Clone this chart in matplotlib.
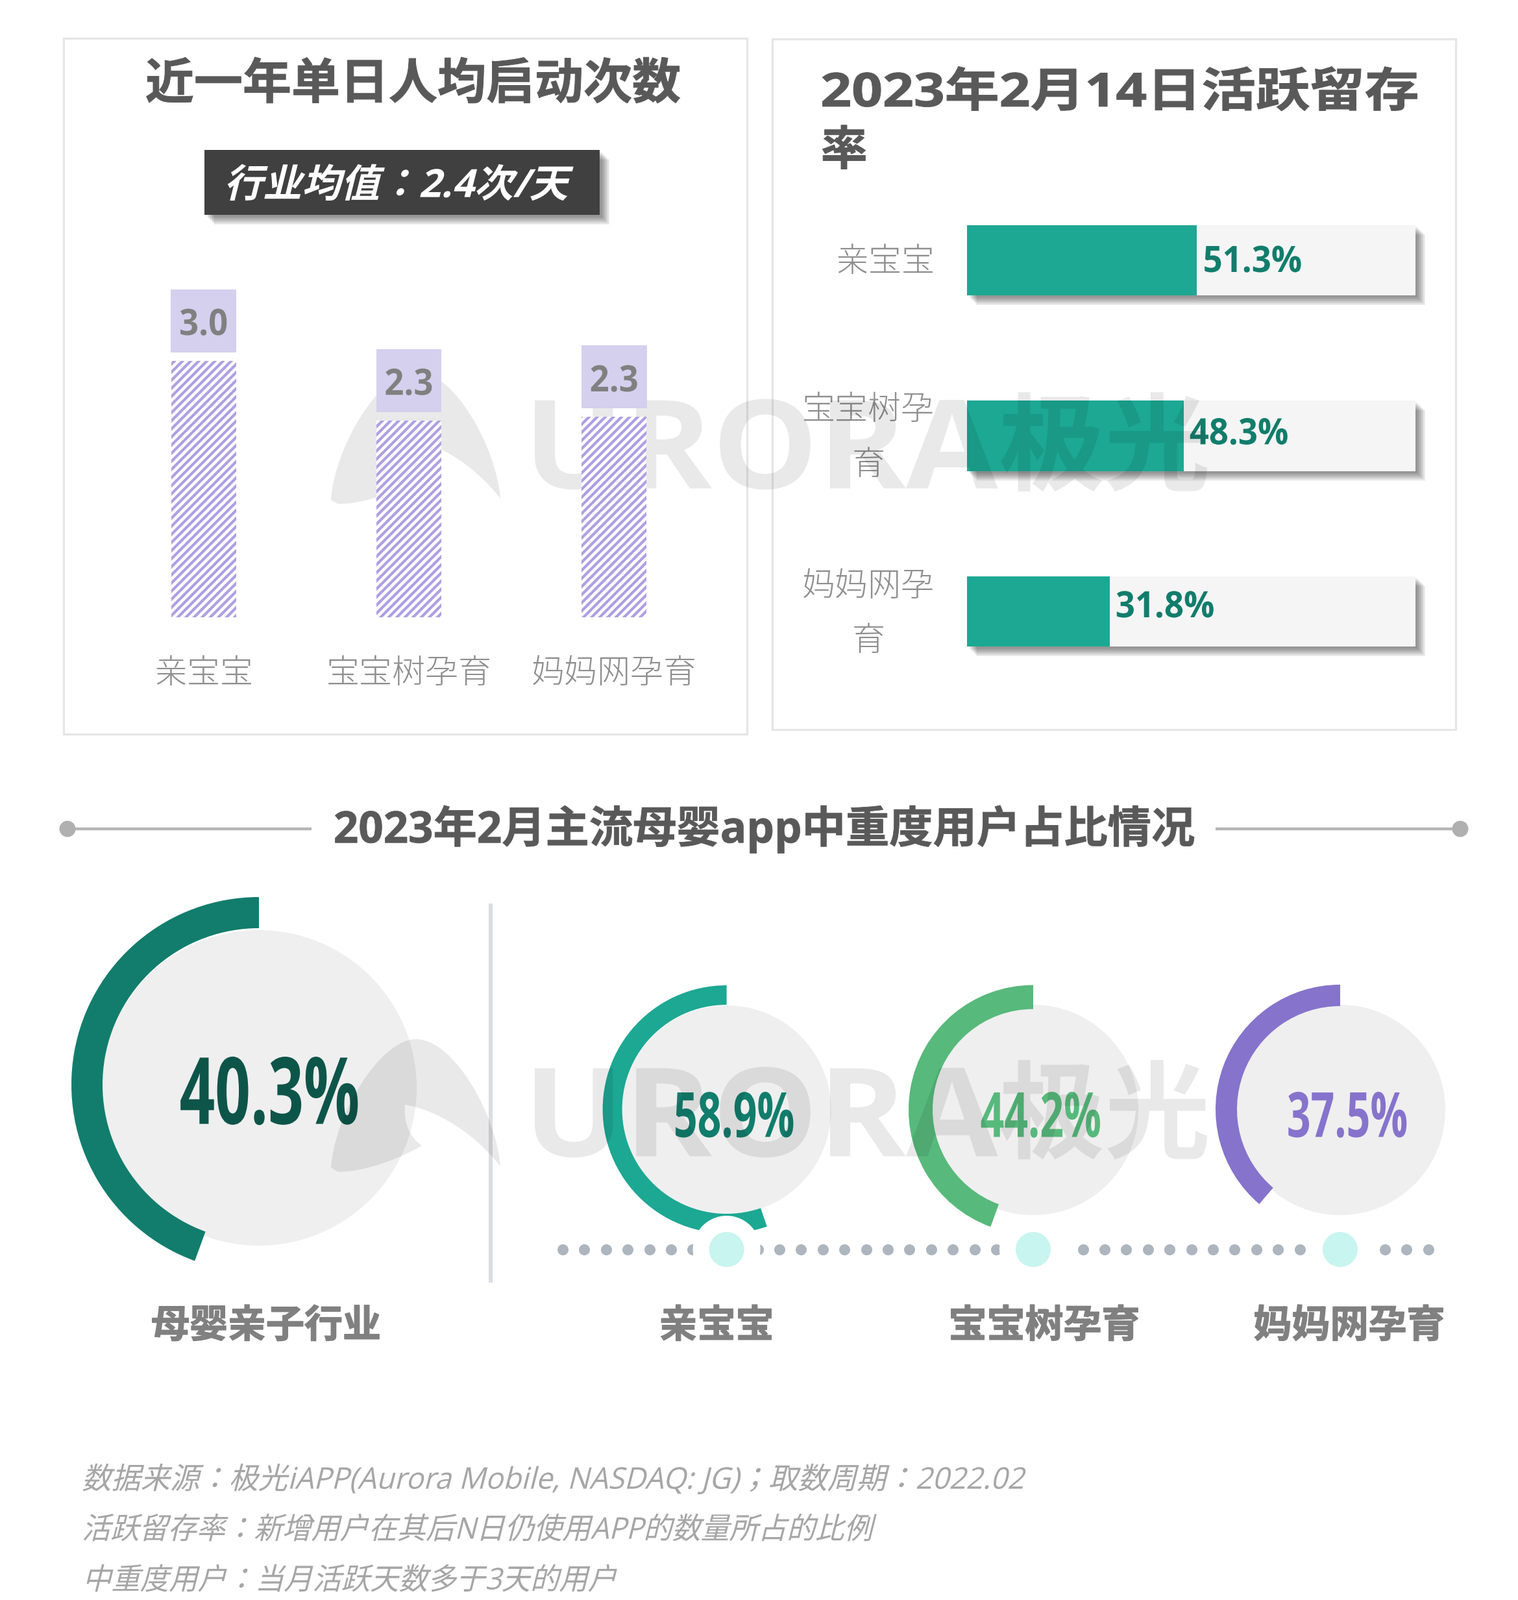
import matplotlib
matplotlib.use("Agg")
import matplotlib.pyplot as plt
import matplotlib.patheffects as pe
from matplotlib.patches import Rectangle, Circle, PathPatch
from matplotlib.path import Path
from matplotlib.transforms import Affine2D, ScaledTranslation
import numpy as np

# ---------- data ----------
start_apps = ["亲宝宝", "宝宝树孕育", "妈妈网孕育"]
start_values = [3.0, 2.30, 2.34]
start_labels = ["3.0", "2.3", "2.3"]
start_title = "近一年单日人均启动次数"
start_note = "行业均值：2.4次/天"

ret_apps = ["亲宝宝", "宝宝树孕\n育", "妈妈网孕\n育"]
ret_values = [51.3, 48.3, 31.8]
ret_labels = ["51.3%", "48.3%", "31.8%"]
ret_title = "2023年2月14日活跃留存\n率"

section_title = "2023年2月主流母婴app中重度用户占比情况"
gauge_names = ["母婴亲子行业", "亲宝宝", "宝宝树孕育", "妈妈网孕育"]
gauge_labels = ["40.3%", "58.9%", "44.2%", "37.5%"]
gauge_sweep_deg = [160, 199, 160, 139.5]   # sweep of each ring

footnotes = [
    "数据来源：极光iAPP(Aurora Mobile, NASDAQ: JG)；取数周期：2022.02",
    "活跃留存率：新增用户在其后N日仍使用APP的数量所占的比例",
    "中重度用户：当月活跃天数多于3天的用户",
]

# ---------- style / layout ----------
W, H, DPI = 2339, 2465, 150
PX = 72 / DPI
FAM = ["Open Sans", "Noto Sans CJK JP"]
CJK = ["Noto Sans CJK JP"]
plt.rcParams["hatch.linewidth"] = 4.2 * PX

fig = plt.figure(figsize=(W / DPI, H / DPI), dpi=DPI, facecolor="white")


def axpx(x0, y0, x1, y1, z):
    ax = fig.add_axes([x0 / W, 1 - y1 / H, (x1 - x0) / W, (y1 - y0) / H], zorder=z)
    ax.patch.set_visible(False)
    return ax


class Warp(pe.AbstractPathEffect):
    """Draw a text path sheared / horizontally scaled / emboldened."""

    def __init__(self, shear=0, xscale=1, stroke=0, left=False):
        super().__init__()
        self.shear, self.xscale, self.stroke, self.left = shear, xscale, stroke, left

    def draw_path(self, renderer, gc, tpath, affine, rgbFace=None):
        e = tpath.get_extents()
        cx = e.x0 if self.left else (e.x0 + e.x1) / 2
        tr = (Affine2D().translate(-cx, 0).scale(self.xscale, 1)
              .skew_deg(self.shear, 0).translate(cx, 0) + affine)
        g = renderer.new_gc()
        g.copy_properties(gc)
        if self.stroke:
            g.set_linewidth(self.stroke * PX)
            g.set_foreground(rgbFace)
        else:
            g.set_linewidth(0)
        renderer.draw_path(g, tpath, tr, rgbFace)
        g.restore()


def shadow_effects():
    fx = [pe.SimplePatchShadow(offset=(d * PX, -d * PX), shadow_rgbFace="black", alpha=0.055)
          for d in (15, 13.5, 12, 10.5, 9, 7.5, 6, 4.5, 3)]
    return fx + [pe.Normal()]


bg = axpx(0, 0, W, H, 0)
fg = axpx(0, 0, W, H, 5)
for a in (bg, fg):
    a.set_xlim(0, W)
    a.set_ylim(H, 0)
    a.axis("off")


def text(x, yc, s, size, color, weight="regular", ha="center", family=FAM,
         shear=0, xscale=1, stroke=0, ax=fg, alpha=None, z=10):
    size_pt = size * PX
    return ax.text(x, yc + 0.36 * size, s, fontsize=size_pt, color=color, weight=weight,
                   ha=ha, va="baseline", family=family, alpha=alpha, zorder=z,
                   path_effects=[Warp(shear, xscale, stroke, ha == "left")])


# ---------- panels ----------
for (x0, y0, x1, y1) in [(98, 59, 1151, 1131), (1190, 60, 2243, 1124)]:
    bg.add_patch(Rectangle((x0, y0), x1 - x0, y1 - y0, fc="white", ec="#e6e6e6", lw=3.2 * PX))

text(636.5, 125, start_title, 75, "#595959", weight="bold", family=CJK, stroke=1)
bg.add_patch(Rectangle((315, 231), 609, 100, fc="#404040", ec="none", path_effects=shadow_effects()))
text(610, 282, start_note, 60, "white", weight="bold", shear=14)

# ---------- start-count columns (above the watermark layer) ----------
PX_PER_UNIT = 131.67
UNIT_GAP, BOX_H = 13 / PX_PER_UNIT, 97 / PX_PER_UNIT
ax1 = axpx(155.5, 950.6 - 3.9 * PX_PER_UNIT, 1104.5, 950.6, 6)
xs = np.arange(len(start_apps))
ax1.set_xlim(-0.5, 2.5)
ax1.set_ylim(0, 3.9)
ax1.bar(xs, start_values, width=0.316, color="white", edgecolor="#ad9fe2", hatch="////", linewidth=0)
ax1.bar(xs, [BOX_H] * 3, bottom=[v + UNIT_GAP for v in start_values], width=0.318, color="#d5d0ee")
for i, (v, lab) in enumerate(zip(start_values, start_labels)):
    ax1.annotate(lab, xy=(i, v + UNIT_GAP + BOX_H / 2), xytext=(0, -22 * PX), textcoords="offset points",
                 ha="center", va="baseline", fontsize=56 * PX, color="#808080", weight="bold", family=FAM,
                 path_effects=[Warp(xscale=0.94)])
ax1.set_xticks(xs, start_apps, fontsize=51 * PX, color="#8f8f8f", family=CJK, weight="light")
ax1.set_yticks([])
ax1.tick_params(axis="x", length=0, pad=60 * PX)
for s in ax1.spines.values():
    s.set_visible(False)

# ---------- retention bars ----------
text(1264.7, 138, ret_title.split("\n")[0], 72, "#595959", weight="bold", ha="left", xscale=1.165, stroke=1)
text(1264.7, 228, ret_title.split("\n")[1], 72, "#595959", weight="bold", ha="left", family=CJK, stroke=1)

ax2 = axpx(1490, 401 - 135.25, 2181, 942 + 135.25, 2)
ys = np.arange(len(ret_apps))
ax2.set_xlim(0, 100)
ax2.set_ylim(2.5, -0.5)
track = ax2.barh(ys, [100] * 3, height=0.4, color="#f5f5f5")
for p in track:
    p.set_path_effects(shadow_effects())
    p.set_clip_on(False)
ax2.barh(ys, ret_values, height=0.4, color="#1ca893")
label_dy = [2, 7, 11]  # label lift above the bar centre, px
for y, v, lab, dy in zip(ys, ret_values, ret_labels, label_dy):
    ax2.annotate(lab, xy=(v, y), xytext=(9 * PX, (dy - 20) * PX), textcoords="offset points",
                 ha="left", va="baseline", fontsize=56 * PX, color="#127d6c", weight="bold", family=FAM,
                 path_effects=[Warp(xscale=0.94, left=True)])
ax2.set_yticks(ys, ret_apps, fontsize=51 * PX, color="#8f8f8f", family=CJK, weight="light",
               linespacing=1.76, ma="center")
ax2.set_xticks([])
ax2.tick_params(axis="y", length=0, pad=50 * PX)
ytick_lift = [4, 19, 18]  # px
for lab, d in zip(ax2.get_yticklabels(), ytick_lift):
    lab.set_transform(lab.get_transform() + ScaledTranslation(0, d / DPI, fig.dpi_scale_trans))
for s in ax2.spines.values():
    s.set_visible(False)

# ---------- section heading ----------
text(1177, 1274, section_title, 67.3, "#595959", weight="bold", stroke=0.8)
for xa, xb, xd in [(104, 480, 104), (1873, 2250, 2250)]:
    fg.plot([xa, xb], [1277, 1277], color="#b5b5b5", lw=4.4 * PX, solid_capstyle="butt", zorder=2)
    fg.add_patch(Circle((xd, 1277), 12.5, fc="#b0b0b0", ec="none", zorder=2))

# ---------- gauges ----------
gauge_cx = [399, 1119.6, 1592, 2065]
gauge_cy = [1671, 1709, 1709.6, 1709]
gauge_R = [289, 191, 192, 192]
gauge_w = [48, 30, 37, 33]
disc_y = [1676, 1710, 1710, 1710]
disc_r = [243, 161, 162, 162]
gauge_col = ["#127d6c", "#1ca893", "#57b97b", "#8673cc"]
pct_col = ["#0e5549", "#127d6c", "#57b97b", "#8673cc"]
pct_x = [415.7, 1131, 1604, 2076]
pct_y = [1680, 1717, 1717, 1717]
pct_size = [143, 96, 96, 96]
name_x = [410, 1104, 1609, 2079]

for i in range(4):
    bg.add_patch(Circle((gauge_cx[i], disc_y[i]), disc_r[i], fc="#efefef", ec="none", zorder=2))
    R = gauge_R[i]
    a = axpx(gauge_cx[i] - R, gauge_cy[i] - R, gauge_cx[i] + R, gauge_cy[i] + R, 3)
    a.pie([gauge_sweep_deg[i], 360 - gauge_sweep_deg[i]], startangle=90, counterclock=True,
          colors=[gauge_col[i], "none"], radius=1, wedgeprops=dict(width=gauge_w[i] / R, linewidth=0))
    a.set_xlim(-1, 1)
    a.set_ylim(-1, 1)
    text(pct_x[i], pct_y[i], gauge_labels[i], pct_size[i], pct_col[i], weight="bold", xscale=0.67)
    text(name_x[i], 2039, gauge_names[i], 59, "#808080", weight="bold", family=CJK, stroke=1.5)

# divider
bg.plot([755.6, 755.6], [1392, 1976], color="#dcdde1", lw=6 * PX, solid_capstyle="butt")

# timeline dots and markers
DOT_Y = 1925
dot_x = np.concatenate([np.arange(867, 2010, 33.4), np.arange(2134, 2210, 33.4)])
fg.scatter(dot_x, [DOT_Y] * len(dot_x), s=(17 * PX) ** 2, color="#adb5bf", linewidths=0, zorder=3)
for cx in gauge_cx[1:]:
    fg.add_patch(Circle((cx, DOT_Y), 52, fc="white", ec="none", zorder=4))
    fg.add_patch(Circle((cx, DOT_Y), 27, fc="#c8f5ef", ec="none", zorder=5))

# ---------- footnotes ----------
for (s, yc, x0, sc) in zip(footnotes, [2277, 2354, 2432], [126, 126, 127], [0.984, 0.96, 0.963]):
    text(x0, yc, s, 46, "#a6a6a6", ha="left", shear=14, xscale=sc)

# ---------- watermark ----------
WM_A = 0.085
for dy in (0, 1029):
    text(808, 684 + dy, "URORA", 190, "black", weight="bold", ha="left", alpha=WM_A, z=20,
         family=["Open Sans"], xscale=1.08)
    text(1702, 684 + dy, "极光", 163, "black", weight="bold", alpha=WM_A, z=20, family=CJK)
    verts = np.array([(510, 770), (515, 690), (585, 572), (641, 572),
                      (700, 572), (765, 690), (771, 768),
                      (730, 715), (670, 680), (624, 673),
                      (622, 700), (630, 722), (650, 736),
                      (600, 765), (545, 778), (520, 776), (510, 770)], float)
    verts[:, 1] += dy
    codes = [Path.MOVETO] + [Path.CURVE4] * 15 + [Path.CLOSEPOLY]
    fg.add_patch(PathPatch(Path(verts, codes), fc="black", ec="none", alpha=WM_A, zorder=20))

fig.savefig("out.png", dpi=DPI)
